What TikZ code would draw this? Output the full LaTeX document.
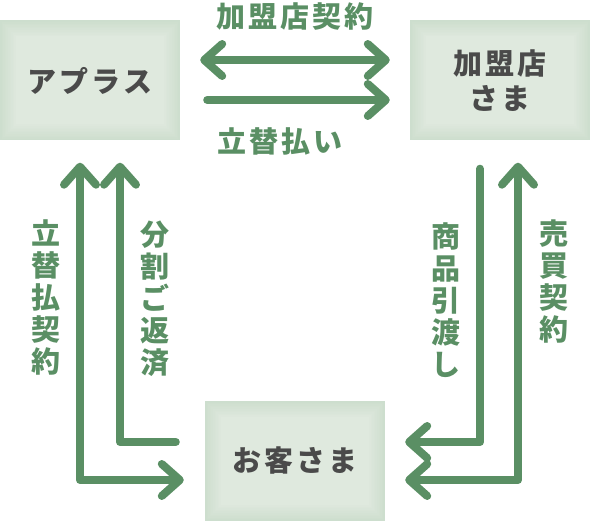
\documentclass[tikz,border=0pt]{standalone}
\usepackage{fontspec}
\newfontfamily\jpfont[LetterSpace=10]{Noto Sans CJK JP}
\usetikzlibrary{arrows.meta}
\definecolor{flowgreen}{HTML}{5A8F64}
\definecolor{boxlight}{HTML}{DFE9DE}
\definecolor{boxdark}{HTML}{C0D5C1}
\definecolor{boxtext}{HTML}{4A4A4A}

\begin{document}
\begin{tikzpicture}[x=1pt, y=-1pt,
		party/.style={rectangle, minimum width=180pt, minimum height=120pt, inner sep=0pt,
			fill=boxlight, text=boxtext, align=center,
			font=\jpfont\bfseries\fontsize{29}{35}\selectfont,
			path picture={
				\foreach \i in {0,...,9}
					\draw [boxdark, line width=1.6pt, opacity={0.55*(1-\i/10)}]
						([shift={(0.8pt+\i*1.6pt,-0.8pt-\i*1.6pt)}]path picture bounding box.north west)
						rectangle ([shift={(-0.8pt-\i*1.6pt,0.8pt+\i*1.6pt)}]path picture bounding box.south east);
			}},
		flow/.style={draw=flowgreen, line width=8pt, line cap=round, line join=round},
		barb/.tip={Straight Barb[length=18pt, width=32pt, round]},
		flowtext/.style={text=flowgreen, inner sep=0pt, align=center,
			font=\jpfont\bfseries\fontsize{29}{32}\selectfont}
		]
	\useasboundingbox (0,0) rectangle (590,521);
	\node [party] (aplus) at (90,80.5) {アプラス};
	\node [party] (member) at (500,80.5) {加盟店\\さま};
	\node [party] (customer) at (295,461) {お客さま};

	\draw [flow, barb-barb] ([shift={(20,-20.5)}]aplus.east) -- ([shift={(-20,-20.5)}]member.west);
	\draw [flow, -barb] ([shift={(27,19.5)}]aplus.east) -- ([shift={(-20,19.5)}]member.west);
	\draw [flow, barb-barb] ([shift={(-10,22)}]aplus.south) |- ([shift={(-21,19)}]customer.west);
	\draw [flow, barb-] ([shift={(30,22)}]aplus.south) |- ([shift={(-29,-19)}]customer.west);
	\draw [flow, -barb] ([shift={(-20,28)}]member.south) |- ([shift={(20,-19)}]customer.east);
	\draw [flow, barb-barb] ([shift={(18,22)}]member.south) |- ([shift={(20,19)}]customer.east);

	\node [flowtext] (shopdeal) at (295,17) {加盟店契約};
	\node [flowtext] (advance) at (280,141) {立替払い};
	\node [flowtext] (credit) at (46,297) {立\\替\\払\\契\\約};
	\node [flowtext] (repay) at (155,299) {分\\割\\ご\\返\\済};
	\node [flowtext] (handover) at (446,300) {商\\品\\引\\渡\\し};
	\node [flowtext] (sale) at (554,282) {売\\買\\契\\約};
\end{tikzpicture}
\end{document}
